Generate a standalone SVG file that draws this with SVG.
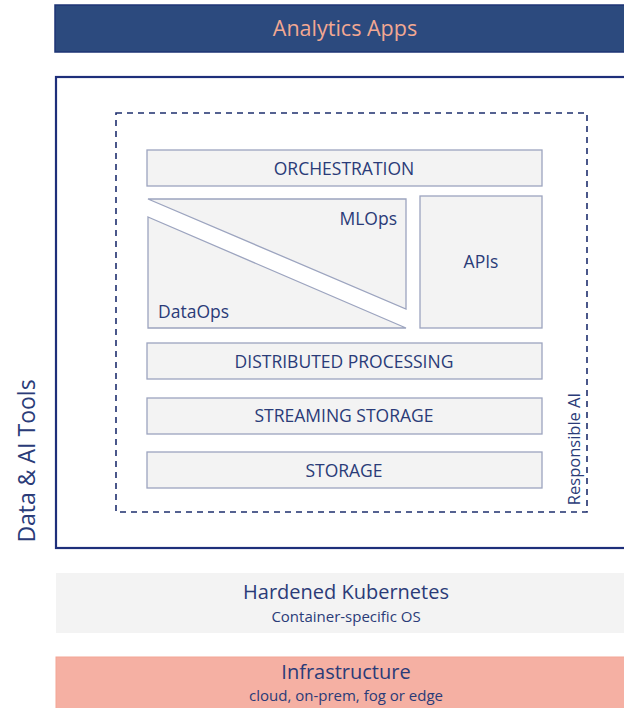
<svg xmlns="http://www.w3.org/2000/svg" width="624" height="708" viewBox="0 0 624 708">
<style>
text{font-family:"Open Sans","Noto Sans",sans-serif;fill:#2a3b78;text-anchor:middle}
.layer{fill:#f3f3f3;stroke:#9ca4bf;stroke-width:1.3}
.cap{font-size:17.5px}
</style>
<rect width="624" height="708" fill="#ffffff"/>
<g id="analytics-apps">
<rect x="55" y="5" width="575" height="47" fill="#2c4a7e" stroke="#1e3575" stroke-width="1.5"/>
<text x="345" y="36" style="fill:#f2a892;font-size:21.5px">Analytics Apps</text>
</g>
<g id="data-ai-tools">
<rect x="56" y="77" width="580" height="471" fill="#ffffff" stroke="#1e2f7a" stroke-width="2.2"/>
<text transform="translate(35,461) rotate(-90)" style="font-size:23px">Data &amp; AI Tools</text>
</g>
<g id="responsible-ai">
<rect x="116" y="113" width="471" height="399" fill="none" stroke="#1e2f6e" stroke-width="1.6" stroke-dasharray="6,5"/>
<text transform="translate(580,449) rotate(-90)" style="font-size:16.5px">Responsible AI</text>
</g>
<g id="orchestration">
<rect class="layer" x="147" y="150" width="395" height="36"/>
<text class="cap" x="344" y="174.5">ORCHESTRATION</text>
</g>
<g id="mlops">
<polygon class="layer" points="148,199 406,199 406,309"/>
<text x="397" y="225" style="font-size:17.5px;text-anchor:end">MLOps</text>
</g>
<g id="dataops">
<polygon class="layer" points="148,217 406,328 148,328"/>
<text x="158" y="318" style="font-size:17.5px;text-anchor:start">DataOps</text>
</g>
<g id="apis">
<rect class="layer" x="420" y="196" width="122" height="132"/>
<text x="481" y="268" style="font-size:17.5px">APIs</text>
</g>
<g id="distributed-processing">
<rect class="layer" x="147" y="343" width="395" height="36"/>
<text class="cap" x="344" y="367.5">DISTRIBUTED PROCESSING</text>
</g>
<g id="streaming-storage">
<rect class="layer" x="147" y="398" width="395" height="36"/>
<text class="cap" x="344" y="422">STREAMING STORAGE</text>
</g>
<g id="storage">
<rect class="layer" x="147" y="452" width="395" height="36"/>
<text class="cap" x="344" y="476.5">STORAGE</text>
</g>
<g id="hardened-kubernetes">
<rect x="56" y="573" width="575" height="60" fill="#f3f3f3"/>
<text x="346" y="599" style="font-size:20px">Hardened Kubernetes</text>
<text x="346" y="622" style="font-size:15px">Container-specific OS</text>
</g>
<g id="infrastructure">
<rect x="56" y="657" width="575" height="55" fill="#f5b0a3" stroke="#f3a595" stroke-width="1"/>
<text x="346" y="678.5" style="font-size:20px">Infrastructure</text>
<text x="346" y="701" style="font-size:15px">cloud, on-prem, fog or edge</text>
</g>
<g id="connectors"></g>
</svg>
